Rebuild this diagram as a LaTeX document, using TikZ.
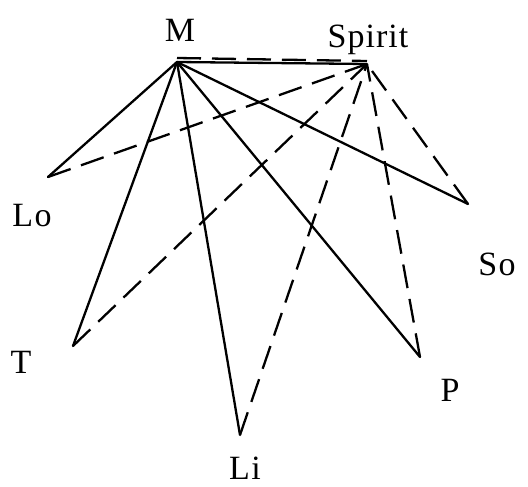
\documentclass[tikz,border=0pt]{standalone}
\usepackage{fontspec}
\setmainfont{Liberation Serif}
\begin{document}
\begin{tikzpicture}[x=1pt,y=-1pt,
  edge/.style={line width=2.3pt, line cap=round},
  dedge/.style={line width=2.3pt, dash pattern=on 24pt off 11pt},
  lbl/.style={font=\fontsize{34}{40}\selectfont, inner sep=0pt}]
\useasboundingbox (0,0) rectangle (528,487);
\coordinate (M) at (177,62);
\coordinate (S) at (367,64);
\coordinate (Lo) at (48,177);
\coordinate (T) at (73,346);
\coordinate (Li) at (240,435);
\coordinate (P) at (420,357);
\coordinate (So) at (468,204);
\coordinate (Ma) at (177,58);
\coordinate (Sa) at (367,61);
\node[lbl] (lM) at (180,30) {M};
\node[lbl] (lS) at (368,40) {S\kern1pt p\kern1pt i\kern1pt r\kern1pt i\kern1pt t};
\node[lbl] (lLo) at (32,216) {L\kern1.5pt o};
\node[lbl] (lT) at (21,362) {T};
\node[lbl] (lLi) at (245,468) {L\kern1.5pt i};
\node[lbl] (lP) at (450,390) {P};
\node[lbl] (lSo) at (497,264) {S\kern1.5pt o};
\draw[edge] (M) -- (S);
\draw[dedge] (Ma) -- (Sa);
\foreach \p in {Lo,T,Li,P,So} {
  \draw[edge] (M) -- (\p);
  \draw[dedge] (\p) -- (S);
}
\end{tikzpicture}
\end{document}
